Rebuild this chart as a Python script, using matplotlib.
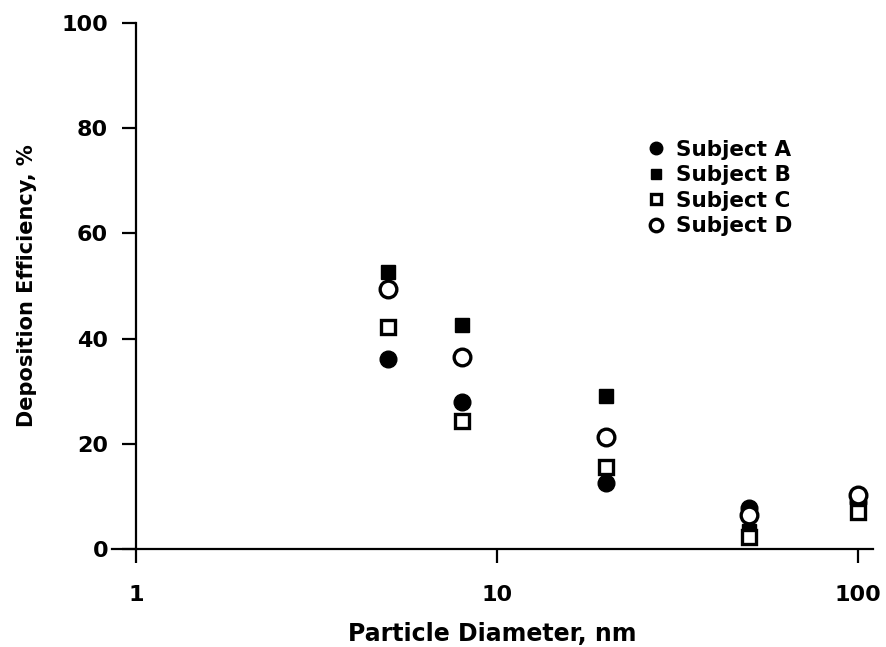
import matplotlib
matplotlib.use("Agg")
import matplotlib.pyplot as plt

diameters = [5, 8, 20, 50, 100]
subject_a = [36.1, 27.9, 12.5, 7.8, 9.0]
subject_b = [52.7, 42.6, 29.1, 3.5, 7.5]
subject_c = [42.2, 24.3, 15.6, 2.3, 7.0]
subject_d = [49.4, 36.5, 21.3, 6.5, 10.3]
labels = ["Subject A", "Subject B", "Subject C", "Subject D"]

plt.rcParams['font.family'] = ['DejaVu Sans']
plt.rcParams['font.weight'] = 'bold'

fig = plt.figure(figsize=(8.86, 6.47), dpi=100)
ax = fig.add_axes([112/886, 1-549/647, 761/886, (549-23)/647])

ms = 12
ax.plot(diameters, subject_a, 'o', color='black', ms=ms, label=labels[0], zorder=3)
ax.plot(diameters, subject_b, 's', color='black', ms=ms-1.5, label=labels[1], zorder=3)
ax.plot(diameters, subject_c, 's', mfc='white', mec='black', mew=2.4, ms=ms-1.5, label=labels[2], zorder=4)
ax.plot(diameters, subject_d, 'o', mfc='white', mec='black', mew=2.4, ms=ms, label=labels[3], zorder=4)

ax.set_xscale('log')
ax.set_xlim(0.858, 110.1)
ax.set_ylim(0, 100)
ax.set_xticks([1, 10, 100])
ax.set_xticklabels(['1', '10', '100'])
ax.xaxis.set_minor_locator(matplotlib.ticker.NullLocator())
ax.set_yticks([0, 20, 40, 60, 80, 100])

for s in ['top', 'right']:
    ax.spines[s].set_visible(False)
ax.spines['left'].set_position(('data', 1))
ax.spines['left'].set_linewidth(1.6)
ax.spines['bottom'].set_linewidth(1.6)
ax.tick_params(axis='both', direction='out', length=10, width=1.6, labelsize=16)
ax.tick_params(axis='y', pad=10)
ax.tick_params(axis='x', pad=16)
for t in ax.get_xticklabels() + ax.get_yticklabels():
    t.set_fontweight('bold')

ax.set_xlabel('Particle Diameter, nm', fontsize=17, fontweight='bold', labelpad=12)
ax.set_ylabel('Deposition Efficiency, %', fontsize=15, fontweight='bold')
ax.yaxis.label.set_va('center')
ax.yaxis.set_label_coords((27-112)/761, 0.5)

leg = ax.legend(loc='upper left', bbox_to_anchor=(645/886, 1-140/647), bbox_transform=fig.transFigure,
                frameon=False, prop={'size': 15.5, 'weight': 'bold'}, handletextpad=0.45,
                handlelength=1.0, labelspacing=0.25, markerscale=0.75, borderaxespad=0, borderpad=0)

fig.savefig('out.png', dpi=100)
